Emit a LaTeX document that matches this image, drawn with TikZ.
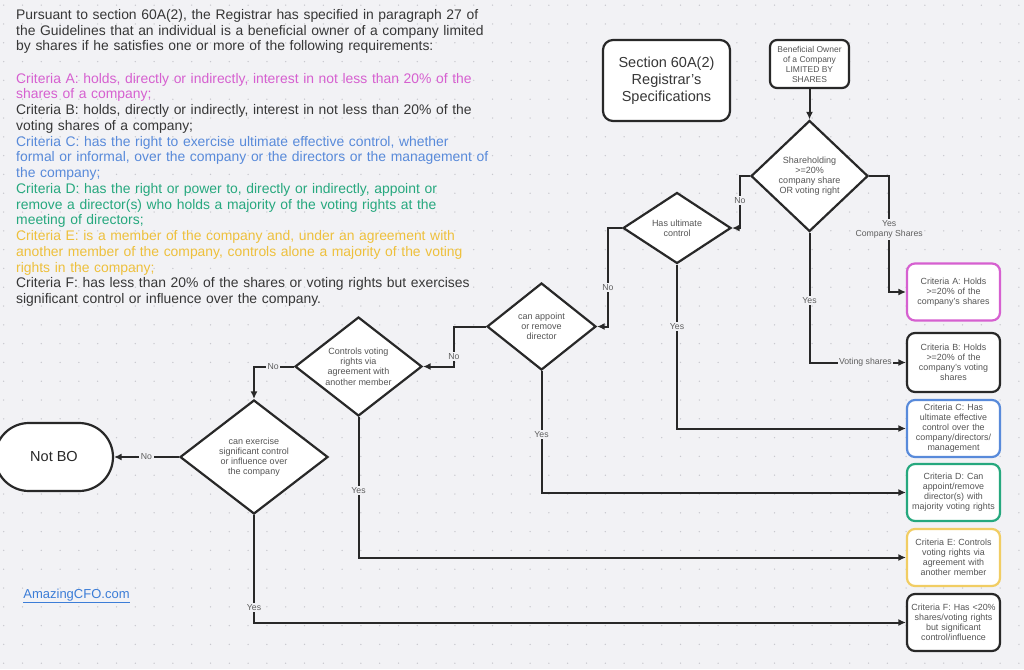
\documentclass[tikz,border=0pt]{standalone}
\usepackage{fontspec}
\setmainfont{Liberation Sans}
\usepackage{xcolor}
\usepackage{tikz}
\usetikzlibrary{arrows.meta,shapes.geometric,positioning}

\definecolor{bgc}{RGB}{242,242,245}
\definecolor{dotc}{RGB}{200,200,206}
\definecolor{inkc}{RGB}{40,40,40}
\definecolor{txtc}{RGB}{55,55,55}
\definecolor{grayt}{RGB}{85,85,85}
\definecolor{lblc}{RGB}{95,95,95}
\definecolor{critA}{RGB}{214,96,208}
\definecolor{critC}{RGB}{88,138,218}
\definecolor{critD}{RGB}{38,168,126}
\definecolor{critE}{RGB}{238,192,60}
\definecolor{linkc}{RGB}{60,125,215}

\begin{document}
\begin{tikzpicture}[x=1pt,y=-1pt,>={Latex[length=7.5pt,width=7pt]},
  flow/.style={->,draw=inkc,line width=2pt},
  lbl/.style={fill=bgc,text=lblc,inner sep=1.5pt,align=center,font=\fontsize{8.7}{10}\selectfont},
  decide/.style={draw=inkc,fill=white,line width=2.2pt,shape=diamond,aspect=1.3,inner sep=0pt,
    align=center,text=grayt,font=\fontsize{9}{10.2}\selectfont},
  critbox/.style={draw,line width=2.2pt,rounded corners=8pt,fill=white,minimum width=93pt,
    minimum height=57pt,text width=88pt,inner sep=0pt,align=center,text=grayt,
    font=\fontsize{8.9}{10}\selectfont}]
\useasboundingbox (0,0) rectangle (1024,669);
\fill[bgc] (0,0) rectangle (1024,669);
\foreach \i in {0,...,54}
  \foreach \j in {0,...,35}
    \fill[dotc] (3.7+18.8*\i,5.2+18.8*\j) circle (0.75);

\node[anchor=north west,inner sep=0pt,text width=520pt,align=left,
  font=\fontsize{13.9}{15.75}\selectfont] (guide) at (16,9) {%
\color{txtc}Pursuant to section 60A(2), the Registrar has specified in paragraph 27 of\\
the Guidelines that an individual is a beneficial owner of a company limited\\
by shares if he satisfies one or more of the following requirements:\\[16.5pt]
\color{critA}Criteria A: holds, directly or indirectly, interest in not less than 20\% of the\\
shares of a company;\\
\color{txtc}Criteria B: holds, directly or indirectly, interest in not less than 20\% of the\\
voting shares of a company;\\
\color{critC}Criteria C: has the right to exercise ultimate effective control, whether\\
formal or informal, over the company or the directors or the management of\\
the company;\\
\color{critD}Criteria D: has the right or power to, directly or indirectly, appoint or\\
remove a director(s) who holds a majority of the voting rights at the\\
meeting of directors;\\
\color{critE}Criteria E: is a member of the company and, under an agreement with\\
another member of the company, controls alone a majority of the voting\\
rights in the company;\\
\color{txtc}Criteria F: has less than 20\% of the shares or voting rights but exercises\\
significant control or influence over the company.};

\node[draw=inkc,line width=2.2pt,rounded corners=10pt,fill=white,minimum width=127pt,
  minimum height=81pt,align=center,text=txtc,font=\fontsize{14.5}{17}\selectfont]
  (title) at (666.5,80.5) {Section 60A(2)\\Registrar's\\Specifications};
\node[draw=inkc,line width=2.2pt,rounded corners=7pt,fill=white,minimum width=79pt,
  minimum height=48pt,inner sep=0pt,align=center,text=grayt,font=\fontsize{8.5}{10}\selectfont]
  (bo) at (809.5,64) {Beneficial Owner\\of a Company\\LIMITED BY\\SHARES};

\node[decide,minimum width=117pt,minimum height=111pt] (share) at (809.5,176)
  {Shareholding\\>=20\%\\company share\\OR voting right};
\node[decide,minimum width=108pt,minimum height=71pt] (ultimate) at (677,228)
  {Has ultimate\\control};
\node[decide,minimum width=109pt,minimum height=87pt] (appoint) at (541.5,326.5)
  {can appoint\\or remove\\director};
\node[decide,minimum width=127pt,minimum height=99pt] (agree) at (358.5,366.5)
  {Controls voting\\rights via\\agreement with\\another member};
\node[decide,minimum width=148pt,minimum height=114pt] (signif) at (254,457)
  {can exercise\\significant control\\or influence over\\the company};

\node[draw=inkc,line width=2.2pt,rounded corners=34pt,fill=white,minimum width=118pt,
  minimum height=68pt,text=inkc,font=\fontsize{14.5}{17}\selectfont] (notbo) at (54,457) {Not BO};

\node[critbox,draw=critA] (critA) at (953.5,292) {Criteria A: Holds\\>=20\% of the\\company's shares};
\node[critbox,draw=inkc,minimum height=59pt] (critB) at (953.5,362.5) {Criteria B: Holds\\>=20\% of the\\company's voting\\shares};
\node[critbox,draw=critC] (critC) at (953.5,428.5) {Criteria C: Has\\ultimate effective\\control over the\\company/directors/\\management};
\node[critbox,draw=critD] (critD) at (953.5,492.5) {Criteria D: Can\\appoint/remove\\director(s) with\\majority voting rights};
\node[critbox,draw=critE!80!white] (critE) at (953.5,557.5) {Criteria E: Controls\\voting rights via\\agreement with\\another member};
\node[critbox,draw=inkc] (critF) at (953.5,622.5) {Criteria F: Has <20\%\\shares/voting rights\\but significant\\control/influence};

\node[text=linkc,font=\fontsize{13}{15}\selectfont] (site) at (76.5,596) {\underline{AmazingCFO.com}};

\draw[flow] (bo) -- (share);
\draw[flow] (share.east) -- ++(20,0) |- (critA) node[lbl,pos=.23] {Yes\\Company Shares};
\draw[flow] (share.south) |- (critB) node[lbl,pos=.26] {Yes} node[lbl,pos=.79] {Voting shares};
\draw[flow] (share.west) -- ++(-10,0) |- (ultimate) node[lbl,pos=.24] {No};
\draw[flow] (ultimate.south) |- (critC) node[lbl,pos=.19] {Yes};
\draw[flow] (ultimate.west) -- ++(-14,0) |- (appoint) node[lbl,pos=.30] {No};
\draw[flow] (appoint.south) |- (critD) node[lbl,pos=.26] {Yes};
\draw[flow] (appoint.west) -- ++(-32,0) |- (agree) node[lbl,pos=.38] {No};
\draw[flow] (agree.south) |- (critE) node[lbl,pos=.26] {Yes};
\draw[flow] (agree.west) -| (signif) node[lbl,pos=.26] {No};
\draw[flow] (signif) -- (notbo) node[lbl,midway] {No};
\draw[flow] (signif.south) |- (critF) node[lbl,pos=.43] {Yes};
\end{tikzpicture}
\end{document}
